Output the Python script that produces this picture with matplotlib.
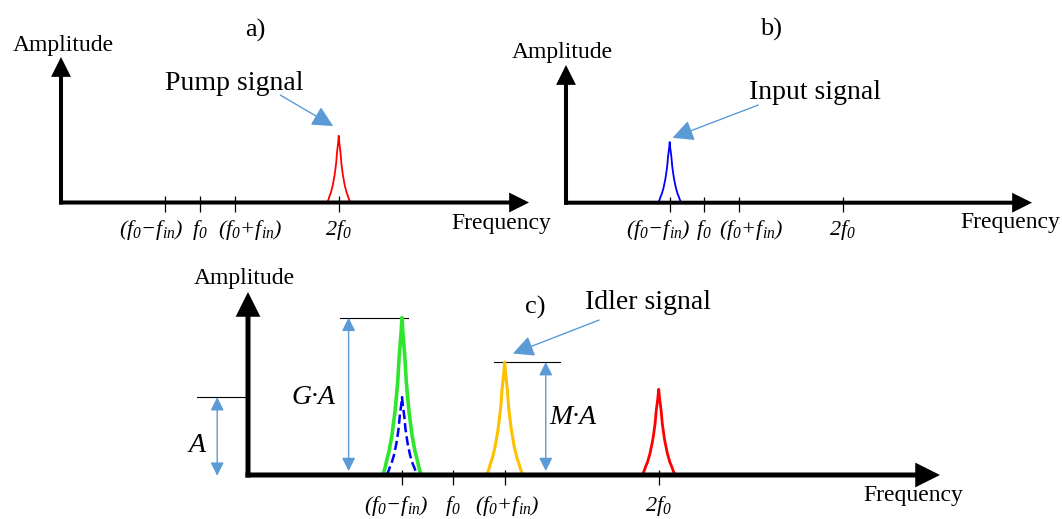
import numpy as np
import matplotlib
matplotlib.use("Agg")
import matplotlib.pyplot as plt

plt.rcParams["font.family"] = ["Liberation Serif", "DejaVu Serif"]
plt.rcParams["mathtext.fontset"] = "custom"
# the tick labels are fully italic in the drawing, digits included
plt.rcParams["mathtext.rm"] = "Liberation Serif:italic"
plt.rcParams["mathtext.it"] = "Liberation Serif:italic"

# -----------------------
# Data (frequency in units of f0, amplitude in units of A)
# -----------------------
F0 = 1.0
FIN = 0.25
tick_pos = [F0 - FIN, F0, F0 + FIN, 2 * F0]
tick_labels = [r"$(f_0{-}f_{in})$", r"$f_0$", r"$(f_0{+}f_{in})$", r"$2f_0$"]

# peak profile: offset from centre (in half-widths) vs relative height
peak_dx = [0.0, 0.05, 0.15, 0.22, 0.29, 0.37, 0.53, 0.68, 0.79, 0.88, 1.0]
peak_rel = [1.0, 0.9, 0.75, 0.6, 0.5, 0.4, 0.25, 0.15, 0.1, 0.05, 0.0]

# panel a: pump
pump_center, pump_height, pump_hw = 2.0, 1.1, 0.083
# panel b: input
input_center, input_height, input_hw = 0.75, 1.0, 0.083
# panel c: amplified signal, original signal, idler, pump
c_centers = [0.75, 0.75, 1.25, 2.0]
c_heights = [2.02, 1.0, 1.45, 1.1]
c_halfw = [0.093, 0.075, 0.088, 0.08]
c_colors = ["#2ee62e", "#0000ff", "#ffc000", "#ff0000"]
c_styles = ["-", "--", "-", "-"]
c_widths = [2.6, 1.8, 2.2, 2.0]

A_LEVEL = 1.0
G_LEVEL = 2.02
M_LEVEL = 1.45

XMAX = 3.37
ARROW_BLUE = "#5b9bd5"


def draw_peak(ax, center, height, hw, color, lw, ls="-"):
    dx = np.array(peak_dx) * hw
    rel = np.array(peak_rel)
    x = np.concatenate([center - dx[::-1], center + dx[1:]])
    y = np.concatenate([rel[::-1], rel[1:]]) * height
    ax.plot(x, y, color=color, lw=lw, ls=ls, solid_joinstyle="round", zorder=3)


def draw_axes(ax, ymax, lw, ms, tick_lo, tick_hi, label_y, label_shift,
              freq_xy, amp_xy, x0, y0):
    ax.set_xlim(0, XMAX)
    ax.set_ylim(0, ymax)
    ax.axis("off")
    akw = dict(arrowstyle="-|>", lw=lw, color="black", mutation_scale=ms,
               shrinkA=0, shrinkB=0, capstyle="butt", joinstyle="miter")
    ax.annotate("", xy=(XMAX, 0), xytext=(x0, 0), arrowprops=akw,
                annotation_clip=False, zorder=4)
    ax.annotate("", xy=(0, ymax), xytext=(0, y0), arrowprops=akw,
                annotation_clip=False, zorder=4)
    ax.vlines(tick_pos, tick_lo, tick_hi, color="black", lw=0.9, clip_on=False, zorder=5)
    # labels are nudged sideways (in pixels) so the crowded ones do not collide
    for p, lab, dx in zip(tick_pos, tick_labels, label_shift):
        ax.annotate(lab, xy=(p, label_y), xytext=(dx, 0), textcoords="offset pixels",
                    ha="center", va="center", fontsize=16, annotation_clip=False)
    ax.text(*freq_xy, "Frequency", ha="center", va="center", fontsize=17)
    ax.text(*amp_xy, "Amplitude", ha="center", va="center", fontsize=17)


def blue_arrow(ax, start, end):
    ax.annotate("", xy=end, xytext=start,
                arrowprops=dict(arrowstyle="-|>", lw=1.0, color=ARROW_BLUE,
                                mutation_scale=32, shrinkA=0, shrinkB=0),
                annotation_clip=False)


def dim_arrow(ax, x, y0, y1):
    ax.annotate("", xy=(x, y1), xytext=(x, y0),
                arrowprops=dict(arrowstyle="<|-|>", lw=1.0, color=ARROW_BLUE,
                                mutation_scale=20, shrinkA=0, shrinkB=0),
                annotation_clip=False)


W, H = 1062, 519
fig = plt.figure(figsize=(W / 100, H / 100), dpi=100)

# ---- a) pump
ax_a = fig.add_axes([61 / W, (H - 202.5) / H, 468 / W, 145.5 / H])
draw_axes(ax_a, 2.4, 2.9, 24, -0.15, 0.1, -0.46, [-14, 0, 16, 0],
          (3.17, -0.34), (0.02, 2.59), -0.014, -0.033)
draw_peak(ax_a, pump_center, pump_height, pump_hw, "#ff0000", 1.3)
ax_a.text(1.40, 2.84, "a)", ha="center", va="center", fontsize=19)
ax_a.text(1.25, 1.96, "Pump signal", ha="center", va="center", fontsize=20)
blue_arrow(ax_a, (1.58, 1.77), (1.96, 1.26))

# ---- b) input
ax_b = fig.add_axes([566 / W, (H - 202.7) / H, 466 / W, 137.7 / H])
draw_axes(ax_b, 2.27, 2.9, 24, -0.15, 0.1, -0.45, [-12, 0, 12, 0],
          (3.21, -0.33), (-0.03, 2.48), -0.014, -0.033)
draw_peak(ax_b, input_center, input_height, input_hw, "#0000ff", 1.3)
ax_b.text(1.48, 2.85, "b)", ha="center", va="center", fontsize=19)
ax_b.text(1.80, 1.81, "Input signal", ha="center", va="center", fontsize=20)
blue_arrow(ax_b, (1.39, 1.61), (0.77, 1.07))

# ---- c) output
ax_c = fig.add_axes([248 / W, (H - 475) / H, 692 / W, 183 / H])
draw_axes(ax_c, 2.35, 3.6, 30, -0.13, 0.07, -0.40, [-6, 0, 3, 0],
          (3.24, -0.26), (-0.02, 2.52), -0.012, -0.032)
for cx, h, hw, col, ls, lw in zip(c_centers, c_heights, c_halfw, c_colors, c_styles, c_widths):
    draw_peak(ax_c, cx, h, hw, col, lw, ls)
ax_c.text(1.40, 2.15, "c)", ha="center", va="center", fontsize=19)
ax_c.text(1.95, 2.22, "Idler signal", ha="center", va="center", fontsize=20)
blue_arrow(ax_c, (1.71, 1.99), (1.29, 1.56))

# level lines and dimension arrows
ax_c.plot([-0.25, 0], [A_LEVEL, A_LEVEL], color="black", lw=0.8, clip_on=False)
ax_c.plot([0.45, 0.78], [G_LEVEL, G_LEVEL], color="black", lw=0.8, clip_on=False)
ax_c.plot([1.20, 1.52], [M_LEVEL, M_LEVEL], color="black", lw=0.8, clip_on=False)
dim_arrow(ax_c, -0.15, -0.01, A_LEVEL)
dim_arrow(ax_c, 0.49, 0.05, G_LEVEL)
dim_arrow(ax_c, 1.45, 0.05, M_LEVEL)
ax_c.text(-0.25, 0.38, "A", ha="center", va="center", fontsize=20, style="italic")
ax_c.text(0.32, 1.0, "G·A", ha="center", va="center", fontsize=20, style="italic")
ax_c.text(1.58, 0.74, "M·A", ha="center", va="center", fontsize=20, style="italic")

fig.savefig("out.png", dpi=100)
